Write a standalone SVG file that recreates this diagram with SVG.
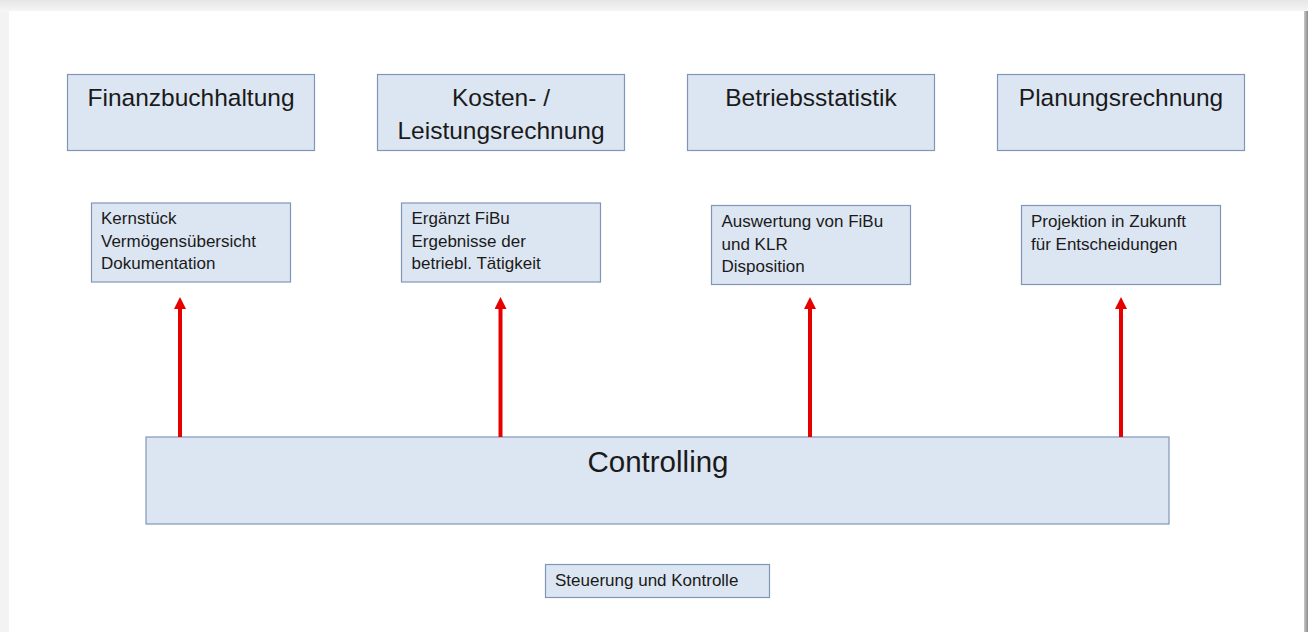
<svg xmlns="http://www.w3.org/2000/svg" width="1308" height="632" viewBox="0 0 1308 632">
  <defs>
    <linearGradient id="topband" x1="0" y1="0" x2="0" y2="1">
      <stop offset="0" stop-color="#e6e6e6"/>
      <stop offset="1" stop-color="#f6f6f6"/>
    </linearGradient>
    <linearGradient id="rightband" x1="0" y1="0" x2="1" y2="0">
      <stop offset="0" stop-color="#c8c8c8"/>
      <stop offset="1" stop-color="#8c8c8c"/>
    </linearGradient>
    <marker id="arrowhead" viewBox="0 0 12 12" refX="0" refY="6" markerWidth="3" markerHeight="3" orient="auto" markerUnits="strokeWidth">
      <path d="M0,0 L12,6 L0,12 Z" fill="#e60000"/>
    </marker>
  </defs>
  <style>
    .box { fill: #dce6f2; stroke: #8096b8; stroke-width: 1.2; }
    .title { font-family: "Liberation Sans", Arial, sans-serif; font-size: 24.5px; fill: #1a1a1a; text-anchor: middle; }
    .big { font-family: "Liberation Sans", Arial, sans-serif; font-size: 29.5px; fill: #1a1a1a; text-anchor: middle; }
    .small { font-family: "Liberation Sans", Arial, sans-serif; font-size: 17px; fill: #1a1a1a; }
    .conn { stroke: #e60000; stroke-width: 4; fill: none; }
  </style>

  <!-- slide frame -->
  <rect x="0" y="0" width="1308" height="632" fill="#f3f3f3"/>
  <rect x="0" y="0" width="1308" height="12" fill="url(#topband)"/>
  <rect x="9" y="11" width="1296" height="621" fill="#ffffff"/>
  <rect x="1304" y="11" width="4" height="621" fill="url(#rightband)"/>

  <!-- top row -->
  <g id="finanzbuchhaltung">
    <rect class="box" x="67.5" y="74.5" width="247" height="76"/>
    <text class="title" x="191" y="106">Finanzbuchhaltung</text>
  </g>
  <g id="kostenleistungsrechnung">
    <rect class="box" x="377.5" y="74.5" width="247" height="76"/>
    <text class="title" x="501" y="106">Kosten- /</text>
    <text class="title" x="501" y="139">Leistungsrechnung</text>
  </g>
  <g id="betriebsstatistik">
    <rect class="box" x="687.5" y="74.5" width="247" height="76"/>
    <text class="title" x="811" y="106">Betriebsstatistik</text>
  </g>
  <g id="planungsrechnung">
    <rect class="box" x="997.5" y="74.5" width="247" height="76"/>
    <text class="title" x="1121" y="106">Planungsrechnung</text>
  </g>

  <!-- second row -->
  <g id="fibu-desc">
    <rect class="box" x="91.5" y="203" width="199" height="79"/>
    <text class="small" x="101" y="224">Kernstück</text>
    <text class="small" x="101" y="246.5">Vermögensübersicht</text>
    <text class="small" x="101" y="268.5">Dokumentation</text>
  </g>
  <g id="klr-desc">
    <rect class="box" x="401.5" y="203" width="199" height="79"/>
    <text class="small" x="411.5" y="224">Ergänzt FiBu</text>
    <text class="small" x="411.5" y="246.5">Ergebnisse der</text>
    <text class="small" x="411.5" y="268.5">betriebl. Tätigkeit</text>
  </g>
  <g id="statistik-desc">
    <rect class="box" x="711.5" y="205.5" width="199" height="79"/>
    <text class="small" x="721.5" y="226.5">Auswertung von FiBu</text>
    <text class="small" x="721.5" y="249.5">und KLR</text>
    <text class="small" x="721.5" y="272">Disposition</text>
  </g>
  <g id="planung-desc">
    <rect class="box" x="1021.5" y="205.5" width="199" height="79"/>
    <text class="small" x="1031" y="226.5">Projektion in Zukunft</text>
    <text class="small" x="1031" y="249.5">für Entscheidungen</text>
  </g>

  <!-- controlling -->
  <g id="controlling">
    <rect class="box" x="146" y="437" width="1023" height="87"/>
    <text class="big" x="658" y="472">Controlling</text>
  </g>
  <g id="steuerung">
    <rect class="box" x="545.5" y="564.5" width="224" height="33"/>
    <text class="small" x="555" y="586">Steuerung und Kontrolle</text>
  </g>

  <!-- connectors -->
  <g id="connectors">
    <line class="conn" x1="180" y1="437" x2="180" y2="309" marker-end="url(#arrowhead)"/>
    <line class="conn" x1="500.5" y1="437" x2="500.5" y2="309" marker-end="url(#arrowhead)"/>
    <line class="conn" x1="810" y1="437" x2="810" y2="309" marker-end="url(#arrowhead)"/>
    <line class="conn" x1="1121" y1="437" x2="1121" y2="309" marker-end="url(#arrowhead)"/>
  </g>
</svg>
